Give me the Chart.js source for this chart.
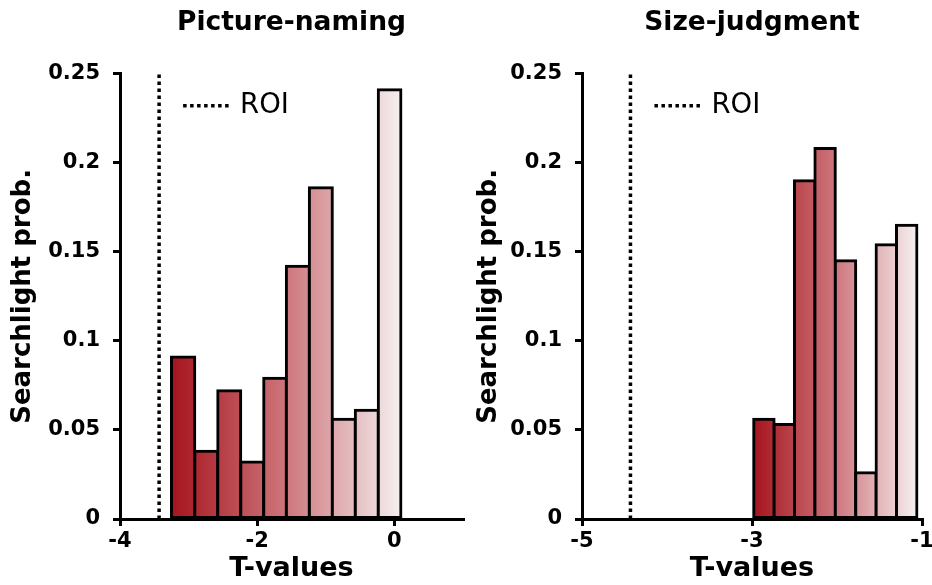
<!DOCTYPE html>
<html>
<head>
<meta charset="utf-8">
<script src="https://cdn.jsdelivr.net/npm/chart.js@4.4.0/dist/chart.umd.min.js"></script>
<style>
  html, body { margin: 0; padding: 0; background: #fff; overflow: hidden; }
  body { width: 932px; height: 585px; position: relative; }
  .panel { position: absolute; top: 0; height: 585px; }
  #left { left: 0; width: 466px; }
  #right { left: 466px; width: 480px; }
</style>
</head>
<body>
<div class="panel" id="left"><canvas id="namingChart"></canvas></div>
<div class="panel" id="right"><canvas id="sizeChart"></canvas></div>
<script>
// picture-naming: bin centres (T) and searchlight probability
const namingT = [-3.08, -2.74, -2.41, -2.07, -1.74, -1.41, -1.07, -0.74, -0.40, -0.07];
const namingProb = [0.091, 0.038, 0.072, 0.032, 0.079, 0.142, 0.186, 0.056, 0.061, 0.241];
const namingRoi = -3.43;
const namingTicks = [-4, -2, 0];

// size-judgment
const sizeT = [-2.86, -2.62, -2.38, -2.14, -1.90, -1.66, -1.42, -1.18];
const sizeProb = [0.056, 0.053, 0.190, 0.208, 0.145, 0.026, 0.154, 0.165];
const sizeRoi = -4.43;
const sizeTicks = [-5, -3, -1];

const probTicks = [0, 0.05, 0.1, 0.15, 0.2, 0.25];

Chart.defaults.font.family = "'DejaVu Sans', Verdana, sans-serif";
Chart.defaults.color = '#000';

// dotted "ROI" key drawn just right of the ROI line
const roiLegend = {
   id: 'roiLegend',
   afterDraw(chart, args, opts) {
      const c = chart.ctx;
      const x = chart.scales.x.getPixelForValue(opts.roi);
      const y = chart.chartArea.top + 32;
      c.save();
      c.strokeStyle = '#000';
      c.lineWidth = 3.5;
      c.setLineDash([3.5, 3.5]);
      c.beginPath();
      c.moveTo(x + 24, y);
      c.lineTo(x + 70, y);
      c.stroke();
      c.setLineDash([]);
      c.fillStyle = '#000';
      c.font = "27.5px 'DejaVu Sans'";
      c.textBaseline = 'middle';
      c.fillText('ROI', x + 81, y);
      c.restore();
   }
};

// red -> pale gradient running across the whole set of bars
function barGradient(tValues) {
   return (ctx) => {
      const chart = ctx.chart;
      if (!chart.chartArea) return '#c05050';
      const xs = chart.scales.x;
      const half = (tValues[1] - tValues[0]) / 2;
      const x0 = xs.getPixelForValue(tValues[0] - half);
      const x1 = xs.getPixelForValue(tValues[tValues.length - 1] + half);
      const g = chart.ctx.createLinearGradient(x0, 0, x1, 0);
      g.addColorStop(0, 'rgb(166,20,30)');
      g.addColorStop(0.5, 'rgb(205,118,124)');
      g.addColorStop(1, 'rgb(245,240,240)');
      return g;
   };
}

function makePanel(canvasId, title, tValues, probs, roi, xTicks, xMin, xMax, axisWidth, padRight) {
   return new Chart(document.getElementById(canvasId), {
      type: 'bar',
      data: {
         datasets: [
            {
               data: tValues.map((t, i) => ({ x: t, y: probs[i] })),
               backgroundColor: barGradient(tValues),
               borderColor: '#000',
               borderWidth: 3,
               borderSkipped: false,
               inflateAmount: 1.5,
               barThickness: 'flex',
               barPercentage: 1,
               categoryPercentage: 1,
            },
            {
               type: 'line',
               data: [{ x: roi, y: 0 }, { x: roi, y: 0.25 }],
               borderColor: '#000',
               borderWidth: 3.5,
               borderDash: [3.5, 3.5],
               pointRadius: 0,
            },
         ],
      },
      options: {
         responsive: true,
         maintainAspectRatio: false,
         animation: false,
         datasets: {
            bar: { barPercentage: 1, categoryPercentage: 1 },
         },
         layout: { padding: { left: 0, right: padRight, top: 0, bottom: 0 } },
         plugins: {
            legend: { display: false },
            tooltip: { enabled: false },
            title: {
               display: true,
               text: title,
               fullSize: false,
               font: { size: 26.5, weight: 'bold' },
               color: '#000',
               padding: { top: 7, bottom: 35 },
            },
            roiLegend: { roi: roi },
         },
         scales: {
            x: {
               type: 'linear',
               min: xMin,
               max: xMax,
               offset: false,
               z: 1,
               afterBuildTicks: (s) => { s.ticks = xTicks.map(v => ({ value: v })); },
               afterFit: (s) => { s.height = 66; },
               grid: { offset: false, drawOnChartArea: false, color: '#000', lineWidth: 3, tickLength: 7 },
               border: { color: '#000', width: 3 },
               ticks: {
                  font: { size: 21, weight: 'bold' },
                  color: '#000',
                  padding: 3,
                  maxRotation: 0,
                  autoSkip: false,
                  callback: (v) => String(v),
               },
               title: {
                  display: true,
                  text: 'T-values',
                  font: { size: 27, weight: 'bold' },
                  color: '#000',
                  padding: 0,
               },
            },
            y: {
               min: 0,
               max: 0.25,
               z: 1,
               afterBuildTicks: (s) => { s.ticks = probTicks.map(v => ({ value: v })); },
               afterFit: (s) => { s.width = axisWidth; },
               grid: { drawOnChartArea: false, color: '#000', lineWidth: 3, tickLength: 7 },
               border: { color: '#000', width: 3 },
               ticks: {
                  font: { size: 21, weight: 'bold' },
                  color: '#000',
                  padding: 13,
                  callback: (v) => String(v),
               },
               title: {
                  display: true,
                  text: 'Searchlight prob.',
                  font: { size: 26, weight: 'bold' },
                  color: '#000',
                  padding: { top: 8, bottom: 0 },
               },
            },
         },
      },
      plugins: [roiLegend],
   });
}

var namingChart = makePanel('namingChart', 'Picture-naming', namingT, namingProb, namingRoi,
   namingTicks, -4, 1, 120, 3);
var sizeChart = makePanel('sizeChart', 'Size-judgment', sizeT, sizeProb, sizeRoi,
   sizeTicks, -5, -1, 116, 24);
</script>
</body>
</html>
